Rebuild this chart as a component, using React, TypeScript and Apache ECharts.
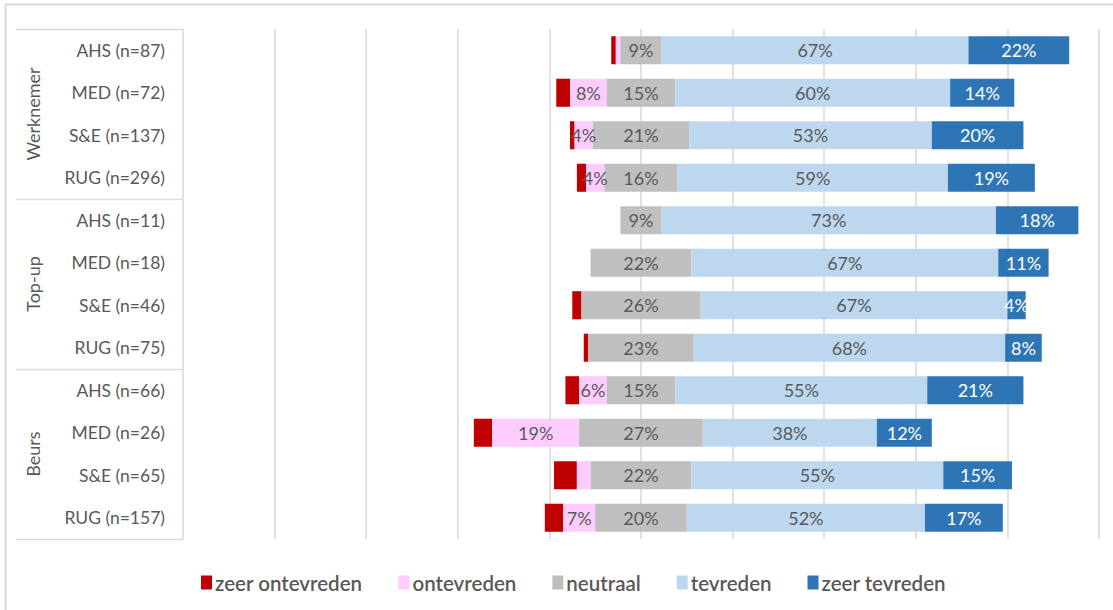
import React, { useEffect, useRef } from "react";
import * as echarts from "echarts";

const categories = [
  "AHS (n=87)", "MED (n=72)", "S&E (n=137)", "RUG (n=296)",
  "AHS (n=11)", "MED (n=18)", "S&E (n=46)", "RUG (n=75)",
  "AHS (n=66)", "MED (n=26)", "S&E (n=65)", "RUG (n=157)",
];
const groups = ["Werknemer", "Top-up", "Beurs"];
const groupSize = 4;

const zeerOntevreden = [1, 3, 1, 2, 0, 0, 2, 1, 3, 4, 5, 4];
const ontevreden = [1, 8, 4, 4, 0, 0, 0, 0, 6, 19, 3, 7];
const neutraal = [9, 15, 21, 16, 9, 22, 26, 23, 15, 27, 22, 20];
const tevreden = [67, 60, 53, 59, 73, 67, 67, 68, 55, 38, 55, 52];
const zeerTevreden = [22, 14, 20, 19, 18, 11, 4, 8, 21, 12, 15, 17];

const seriesNames = ["zeer ontevreden", "ontevreden", "neutraal", "tevreden", "zeer tevreden"];
const colors = ["#C00000", "#FFCCFF", "#BFBFBF", "#BDD7EE", "#2E75B6"];

const W = 1113;
const H = 610;
const GRID_LEFT = 183;
const GRID_RIGHT = 14;
const GRID_TOP = 29;
const GRID_BOTTOM = 71;
const FONT = "Lato, 'Noto Sans', sans-serif";
const TEXT = "#595959";
const LINE = "#D9D9D9";

export default function App() {
  const ref = useRef<HTMLDivElement>(null);
  useEffect(() => {
    document.body.style.margin = "0";
    const chart = echarts.init(ref.current!, null, { renderer: "svg" });
    const offset = categories.map((_, i) => -(zeerOntevreden[i] + ontevreden[i] + neutraal[i] / 2));
    const values = [zeerOntevreden, ontevreden, neutraal, tevreden, zeerTevreden];
    const plotH = H - GRID_TOP - GRID_BOTTOM;
    const band = plotH / categories.length;

    const graphics: any[] = [];
    for (let g = 0; g <= groups.length; g++) {
      const y = Math.round(GRID_TOP + g * groupSize * band) + 0.5;
      graphics.push({
        type: "line",
        shape: { x1: 16, y1: y, x2: GRID_LEFT, y2: y },
        style: { stroke: LINE, lineWidth: 1.5 },
      });
    }
    groups.forEach((name, g) => {
      const cy = GRID_TOP + (g + 0.5) * groupSize * band;
      graphics.push({
        type: "text",
        x: 33,
        y: cy,
        rotation: Math.PI / 2,
        style: {
          text: name,
          fill: TEXT,
          font: `18px ${FONT}`,
          align: "center",
          verticalAlign: "middle",
        },
      });
    });
    // outer frame
    graphics.push({
      type: "polyline",
      shape: { points: [[5.5, H + 5], [5.5, 4.5], [W + 5, 4.5]] },
      style: { stroke: LINE, lineWidth: 2, fill: "none" },
    });

    const labelColor = (i: number) => (i === 4 ? "#FFFFFF" : TEXT);

    chart.setOption({
      animation: false,
      textStyle: { fontFamily: FONT },
      grid: { left: GRID_LEFT, right: GRID_RIGHT, top: GRID_TOP, bottom: GRID_BOTTOM },
      xAxis: {
        type: "value",
        min: -100,
        max: 100,
        interval: 20,
        axisLabel: { show: false },
        axisLine: { show: false },
        axisTick: { show: false },
        splitLine: { show: true, lineStyle: { color: LINE, width: 1.5 } },
      },
      yAxis: {
        type: "category",
        inverse: true,
        data: categories,
        axisLine: { show: false },
        axisTick: { show: false },
        axisLabel: { color: TEXT, fontSize: 17.5, margin: 18, fontFamily: FONT },
      },
      legend: {
        data: seriesNames,
        left: 196,
        top: 567,
        itemWidth: 11,
        itemHeight: 14,
        itemGap: 36,
        icon: "rect",
        textStyle: { color: TEXT, fontSize: 20.5, fontWeight: 600, fontFamily: FONT, padding: [0, 0, 0, -2] },
      },
      graphic: graphics,
      series: [
        {
          name: "offset",
          type: "bar",
          stack: "total",
          stackStrategy: "all",
          barWidth: "66%",
          itemStyle: { color: "transparent" },
          emphasis: { disabled: true },
          data: offset,
          silent: true,
        },
        ...values.map((arr, i) => ({
          name: seriesNames[i],
          type: "bar",
          stack: "total",
          stackStrategy: "all",
          barWidth: "66%",
          itemStyle: { color: colors[i] },
          label: {
            show: i !== 0,
            position: "inside",
            color: labelColor(i),
            fontSize: 18,
            fontWeight: "normal",
            fontFamily: FONT,
            formatter: (p: any) => {
              const v = p.value as number;
              if (v <= 0) return "";
              if (i === 1 && v < 4) return "";
              return `${v}%`;
            },
          },
          data: arr,
        })),
      ],
    });
    return () => chart.dispose();
  }, []);
  return <div ref={ref} style={{ width: W, height: H }} />;
}
